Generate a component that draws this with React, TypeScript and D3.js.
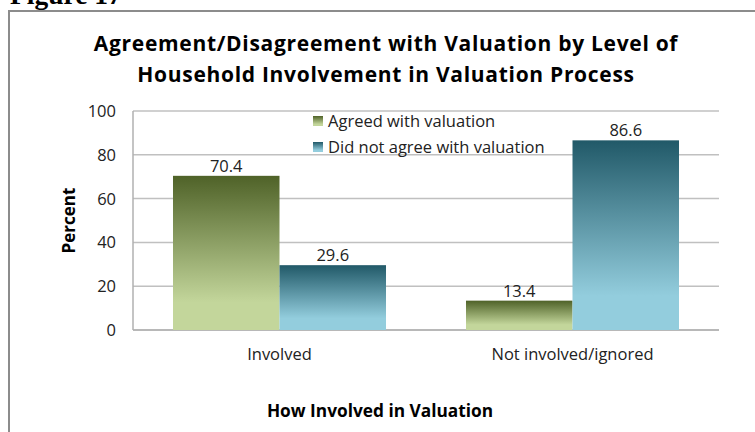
import React from 'react';
import * as d3 from 'd3';

const categories = ['Involved', 'Not involved/ignored'];
const seriesNames = ['Agreed with valuation', 'Did not agree with valuation'];
const agreed = [70.4, 13.4];
const disagreed = [29.6, 86.6];
const yTicks = [0, 20, 40, 60, 80, 100];

const FONT = '"Open Sans", "Noto Sans", sans-serif';

const App: React.FC = () => {
  const W = 755;
  const H = 432;
  const plot = { left: 133, right: 719, top: 111, bottom: 330 };

  const x0 = d3.scaleBand<string>()
    .domain(categories)
    .range([plot.left, plot.right])
    .paddingInner(0.273)
    .paddingOuter(0.1365);
  const x1 = d3.scaleBand<string>()
    .domain(seriesNames)
    .range([0, x0.bandwidth()]);
  const y = d3.scaleLinear().domain([0, 100]).range([plot.bottom, plot.top]);

  const series = [
    { name: seriesNames[0], values: agreed, fill: 'url(#gGreen)' },
    { name: seriesNames[1], values: disagreed, fill: 'url(#gBlue)' },
  ];

  return (
    <svg width={W} height={H} style={{ position: 'absolute', left: 0, top: 0 }}>
      <defs>
        <linearGradient id="gGreen" x1="0" y1="0" x2="0" y2="1">
          <stop offset="0" stopColor="#4f6228" />
          <stop offset="0.82" stopColor="#c3d69b" />
          <stop offset="1" stopColor="#c3d69b" />
        </linearGradient>
        <linearGradient id="gBlue" x1="0" y1="0" x2="0" y2="1">
          <stop offset="0" stopColor="#215968" />
          <stop offset="0.82" stopColor="#93cddd" />
          <stop offset="1" stopColor="#93cddd" />
        </linearGradient>
      </defs>
      <rect width={W} height={H} fill="#fff" />

      {/* page caption, cut off at the top like the scan */}
      <text x={10} y={4} fontFamily='"Liberation Serif", serif' fontWeight="bold" fontSize={27.5} fill="#000">
        Figure 17
      </text>

      {/* chart frame */}
      <rect x={9} y={11} width={W + 10} height={H + 10} fill="none" stroke="#8c8c8c" strokeWidth={2} />

      {/* title */}
      <g fontFamily={FONT} fontWeight="bold" fontSize={21} fill="#000" textAnchor="middle" letterSpacing={0.7}>
        <text x={386} y={51}>Agreement/Disagreement with Valuation by Level of</text>
        <text x={386} y={82}>Household Involvement in Valuation Process</text>
      </g>

      {/* grid */}
      {yTicks.map(t => (
        <g key={t}>
          <line x1={plot.left} x2={plot.right} y1={y(t)} y2={y(t)} stroke="#c0c0c0" strokeWidth={1.5} />
          <text x={116} y={y(t) + 6} textAnchor="end" fontFamily={FONT} fontSize={16.5} fill="#222">
            {t}
          </text>
        </g>
      ))}
      <line x1={plot.left} x2={plot.left} y1={plot.top} y2={plot.bottom} stroke="#b0b0b0" strokeWidth={1.5} />
      <line x1={plot.left} x2={plot.right} y1={plot.bottom} y2={plot.bottom} stroke="#b0b0b0" strokeWidth={1.5} />

      {/* bars */}
      {categories.map((c, i) => (
        <g key={c} transform={`translate(${x0(c)},0)`}>
          {series.map(s => {
            const v = s.values[i];
            const bx = x1(s.name) as number;
            return (
              <g key={s.name}>
                <rect x={bx} y={y(v)} width={x1.bandwidth()} height={y(0) - y(v)} fill={s.fill} />
                <text x={bx + x1.bandwidth() / 2} y={y(v) - 4} textAnchor="middle"
                  fontFamily={FONT} fontSize={16.5} fill="#222">
                  {v.toFixed(1)}
                </text>
              </g>
            );
          })}
          <text x={x0.bandwidth() / 2} y={360} textAnchor="middle" fontFamily={FONT} fontSize={16.5} fill="#222">
            {c}
          </text>
        </g>
      ))}

      {/* legend */}
      {series.map((s, i) => (
        <g key={s.name} transform={`translate(313,${116 + i * 26})`}>
          <rect width={10} height={10} fill={s.fill} />
          <text x={15} y={11} fontFamily={FONT} fontSize={16.5} fill="#222">{s.name}</text>
        </g>
      ))}

      {/* axis titles */}
      <text transform={`translate(75,${(plot.top + plot.bottom) / 2}) rotate(-90)`} textAnchor="middle"
        fontFamily={FONT} fontWeight="bold" fontSize={17} fill="#000">
        Percent
      </text>
      <text x={380} y={417} textAnchor="middle" fontFamily={FONT} fontWeight="bold" fontSize={17.3} fill="#000">
        How Involved in Valuation
      </text>
    </svg>
  );
};

export default App;
